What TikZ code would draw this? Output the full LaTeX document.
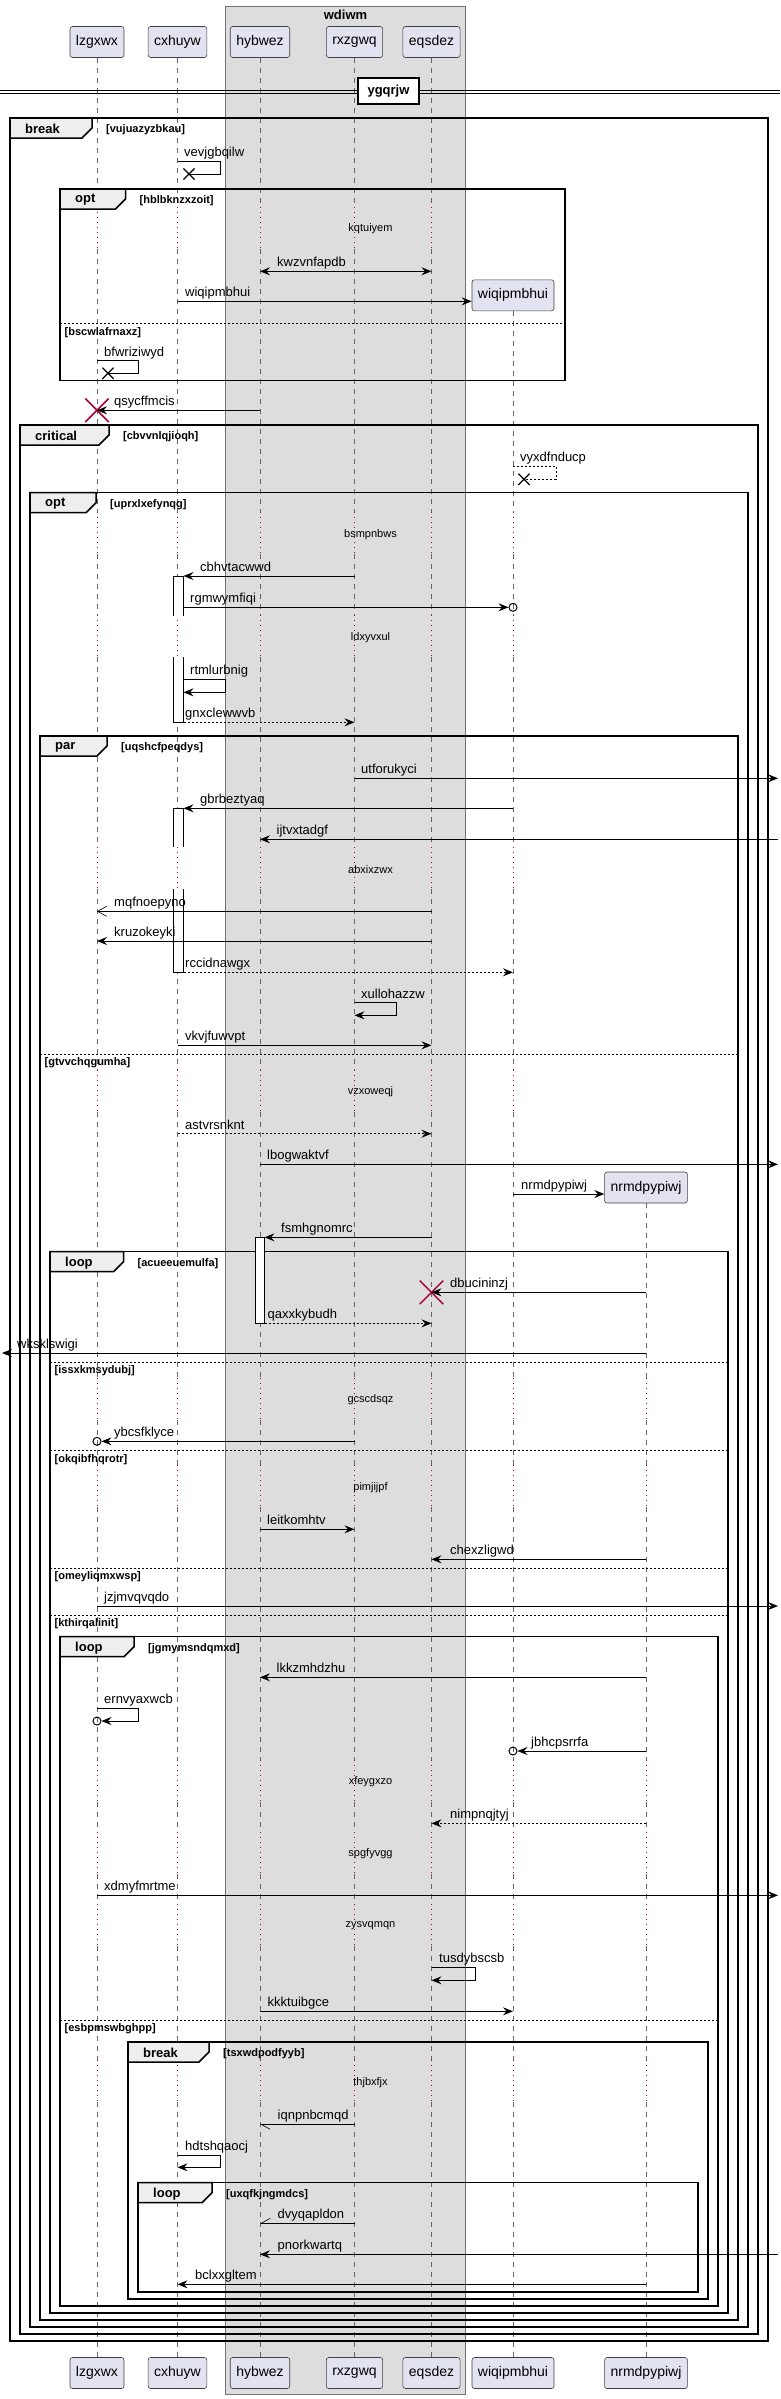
\documentclass[tikz,border=0pt]{standalone}
\usepackage{fontspec}
\setmainfont{Liberation Sans}
\usetikzlibrary{arrows.meta,shapes.misc}

\definecolor{partfill}{HTML}{E2E2F0}
\definecolor{boxfill}{HTML}{DDDDDD}
\definecolor{tabfill}{HTML}{EEEEEE}
\definecolor{delayred}{HTML}{A80036}

\tikzset{
  part/.style={draw=black!75, line width=0.6pt, fill=partfill, rounded corners=2.5pt, minimum height=31pt, inner xsep=6pt, inner ysep=0pt, font=\fontsize{14}{16}\selectfont},
  grpbox/.style={draw=black!55, line width=0.6pt, fill=boxfill},
  grptitle/.style={font=\bfseries\fontsize{13}{15}\selectfont, inner sep=0pt},
  sepline/.style={line width=1pt},
  sepbox/.style={draw, line width=1.5pt, fill=white, minimum width=61pt, minimum height=26pt, inner sep=0pt, font=\bfseries\fontsize{13}{15}\selectfont},
  life/.style={draw=black!60, line width=0.6pt, dash pattern=on 5pt off 5pt},
  delayline/.style={draw=delayred, line width=0.9pt, dash pattern=on 1pt off 4pt},
  delaytxt/.style={font=\fontsize{11}{13}\selectfont, inner sep=0pt},
  grpframe/.style={line width=1.5pt},
  grptab/.style={fill=tabfill, line width=1.5pt},
  tabtxt/.style={font=\bfseries\fontsize{13}{15}\selectfont, anchor=west, inner sep=0pt},
  condtxt/.style={font=\bfseries\fontsize{11}{13}\selectfont, anchor=west, inner sep=0pt},
  elseline/.style={line width=0.7pt, dash pattern=on 2pt off 2pt},
  act/.style={draw, fill=white, line width=0.7pt},
  msg/.style={line width=0.9pt, -{Stealth[length=10pt,width=8pt,inset=3.5pt]}},
  bimsg/.style={line width=0.9pt, {Stealth[length=10pt,width=8pt,inset=3.5pt]}-{Stealth[length=10pt,width=8pt,inset=3.5pt]}},
  openmsg/.style={line width=0.9pt, -{Straight Barb[length=9pt,width=10pt,line width=0.6pt]}},
  halflo/.style={line width=0.9pt, -{Straight Barb[left,length=9pt,width=10pt,line width=0.6pt]}},
  halfhi/.style={line width=0.9pt, -{Straight Barb[right,length=9pt,width=10pt,line width=0.6pt]}},
  selfline/.style={line width=0.9pt},
  retn/.style={dash pattern=on 2pt off 2pt},
  lbl/.style={font=\fontsize{13}{15}\selectfont, anchor=base west, inner sep=0pt},
  endo/.style={circle, draw, line width=1pt, minimum size=8pt, inner sep=0pt},
  destroy/.style={cross out, draw=delayred, line width=1.5pt, minimum size=22pt, inner sep=0pt},
  lx/.style={cross out, draw, line width=1.2pt, minimum size=10pt, inner sep=0pt}
}

\begin{document}
\begin{tikzpicture}[x=1pt,y=-1pt]
\useasboundingbox (0,0) rectangle (780,2399);

\draw[grpbox] (225.5,6) rectangle (465.5,2394);
\node[grptitle] (wdiwm) at (345.5,15) {wdiwm};

\foreach \n/\x in {lzgxwx/97, cxhuyw/177.5, hybwez/260, rxzgwq/354.5, eqsdez/431.5}
  \node[part] (\n) at (\x,42) {\n};
\node[part] (wiqipmbhui) at (513,295.3) {wiqipmbhui};
\node[part] (nrmdpypiwj) at (646,1187.5) {nrmdpypiwj};
\foreach \n/\x in {lzgxwx/97, cxhuyw/177.5, hybwez/260, rxzgwq/354.5, eqsdez/431.5, wiqipmbhui/513, nrmdpypiwj/646}
  \node[part] (\n-b) at (\x,2373) {\n};

\coordinate (cxR) at (183.5,0);
\coordinate (hyR) at (264.5,0);
\coordinate (lim) at (2,0);
\coordinate (rim) at (778,0);

\foreach \p/\s in {lzgxwx/57.5, cxhuyw/57.5, hybwez/57.5, rxzgwq/57.5, eqsdez/57.5, wiqipmbhui/311.3, nrmdpypiwj/1203}{
  \foreach \a/\b in {57.5/207, 249/512.3, 554.3/615.3, 657.3/847.3, 889.3/1069.7, 1111.7/1378, 1420/1465.3, 1507.3/1760, 1802/1832, 1874/1903.7, 1945.7/2060.3, 2102.3/2357.5}{
    \pgfmathsetmacro\lo{max(\a,\s)}
    \ifdim\b pt>\s pt \draw[life] (\p |- 0,\lo) -- (\p |- 0,\b); \fi
  }
  \foreach \c/\d in {207/249, 512.3/554.3, 615.3/657.3, 847.3/889.3, 1069.7/1111.7, 1378/1420, 1465.3/1507.3, 1760/1802, 1832/1874, 1903.7/1945.7, 2060.3/2102.3}{
    \ifdim\c pt>\s pt \draw[delayline] (\p |- 0,\c) -- (\p |- 0,\d); \fi
  }
}
\foreach \t/\txt in {229/kqtuiyem, 534.3/bsmpnbws, 637.3/ldxyvxul, 869.3/abxixzwx, 1091.7/vzxoweqj, 1400/gcscdsqz, 1487.3/pimjijpf, 1782/xfeygxzo, 1854/spgfyvgg, 1925.7/zysvqmqn, 2082.3/thjbxfjx}
  \node[delaytxt] (d-\txt) at (370.5,\t) {\txt};

\draw[sepline] (0,90) -- (780,90) (0,93) -- (780,93);
\node[sepbox] (ygqrjw) at (388.5,91) {ygqrjw};

\foreach \xa/\ya/\xb/\yb/\kind/\tr/\cnd [count=\i] in {10/118/768/2341/break/92/vujuazyzbkau, 60/189/565/380.7/opt/125.5/hblbknzxzoit, 20/425/758/2334/critical/109/cbvvnlqjioqh, 30/492.7/748/2327/opt/96/uprxlxefynqg, 40/736/738/2320/par/107/uqshcfpeqdys, 50/1251.7/728/2313/loop/123.5/acueeuemulfa, 60/1636.7/718/2306/loop/134/jgmymsndqmxd, 128/2042/708/2299/break/209/tsxwdpodfyyb, 138/2182.7/698/2292/loop/212/uxqfkjngmdcs}{
  \draw[grpframe] (\xa,\ya) rectangle (\xb,\yb);
  \draw[grptab] (\xa,\ya) -- (\tr,\ya) -- (\tr,\ya+10) -- (\tr-10,\ya+20) -- (\xa,\ya+20) -- cycle;
  \node[tabtxt] (tab\i) at (\xa+15,\ya+11) {\kind};
  \node[condtxt] (cond\i) at (\tr+14,\ya+11.5) {[\cnd]};
}
\foreach \xa/\y/\xb/\cnd [count=\i] in {60/323.3/565/bscwlafrnaxz, 40/1054/738/gtvvchqgumha, 50/1362/728/issxkmsydubj, 50/1450.3/728/okqibfhqrotr, 50/1568/728/omeyliqmxwsp, 50/1615/728/kthirqalinit, 60/2020/718/esbpmswbghpp}{
  \draw[elseline] (\xa,\y) -- (\xb,\y);
  \node[condtxt] (else\i) at (\xa+4.5,\y+9) {[\cnd]};
}

\fill[white] (173.5,576) rectangle (183.5,615.7);
\draw[act] (173.5,615.7) |- (183.5,576) -- (183.5,615.7);
\fill[white] (173.5,656.7) rectangle (183.5,722.3);
\draw[act] (173.5,656.7) |- (183.5,722.3) -- (183.5,656.7);
\fill[white] (173.5,808.3) rectangle (183.5,847.3);
\draw[act] (173.5,847.3) |- (183.5,808.3) -- (183.5,847.3);
\fill[white] (173.5,889.3) rectangle (183.5,972.3);
\draw[act] (173.5,889.3) |- (183.5,972.3) -- (183.5,889.3);
\draw[act] (255,1237.3) rectangle (264.5,1323.3);

\node[lx] (x-vevjgbqilw) at (189,174) {};
\draw[selfline] (cxhuyw |- 0,161.3) -| (220.5,174) -- (x-vevjgbqilw.center);
\node[lbl] (t-vevjgbqilw) at (184,156.8) {vevjgbqilw};

\draw[bimsg] (hybwez |- 0,271.3) -- (eqsdez |- 0,271.3);
\node[lbl] (t-kwzvnfapdb) at (277,266.8) {kwzvnfapdb};

\draw[msg] (cxhuyw |- 0,301.3) -- (wiqipmbhui.west |- 0,301.3);
\node[lbl] (t-wiqipmbhui) at (185,296.8) {wiqipmbhui};

\node[lx] (x-bfwriziwyd) at (108,373.3) {};
\draw[selfline] (lzgxwx |- 0,360.7) -| (138.5,373.3) -- (x-bfwriziwyd.center);
\node[lbl] (t-bfwriziwyd) at (104,356.2) {bfwriziwyd};

\node[destroy] (k-lzgxwx) at (lzgxwx |- 0,410.3) {};
\draw[msg] (hybwez |- 0,410.3) -- (k-lzgxwx.center);
\node[lbl] (t-qsycffmcis) at (114,405.8) {qsycffmcis};

\node[lx] (x-vyxdfnducp) at (524,479.3) {};
\draw[selfline,retn] (wiqipmbhui |- 0,466) -| (556,479.3) -- (x-vyxdfnducp.center);
\node[lbl] (t-vyxdfnducp) at (520,461.5) {vyxdfnducp};

\draw[msg] (rxzgwq |- 0,576) -- (cxR |- 0,576);
\node[lbl] (t-cbhvtacwwd) at (200,571.5) {cbhvtacwwd};

\node[endo] (o-rgmwymfiqi) at (wiqipmbhui |- 0,607.3) {};
\draw[msg] (cxR |- 0,607.3) -- (o-rgmwymfiqi);
\node[lbl] (t-rgmwymfiqi) at (190,602.8) {rgmwymfiqi};

\draw[msg] (cxR |- 0,679.3) -| (225.5,692.3) -- (cxR |- 0,692.3);
\node[lbl] (t-rtmlurbnig) at (190,674.8) {rtmlurbnig};

\draw[msg,retn] (cxR |- 0,722.3) -- (rxzgwq |- 0,722.3);
\node[lbl] (t-gnxclewwvb) at (185,717.8) {gnxclewwvb};

\draw[msg] (rxzgwq |- 0,778.3) -- (rim |- 0,778.3);
\node[lbl] (t-utforukyci) at (361,773.8) {utforukyci};

\draw[msg] (wiqipmbhui |- 0,808.3) -- (cxR |- 0,808.3);
\node[lbl] (t-gbrbeztyaq) at (200,803.8) {gbrbeztyaq};

\draw[msg] (rim |- 0,839.3) -- (hybwez |- 0,839.3);
\node[lbl] (t-ijtvxtadgf) at (276.5,834.8) {ijtvxtadgf};

\draw[openmsg] (eqsdez |- 0,911.3) -- (lzgxwx |- 0,911.3);
\node[lbl] (t-mqfnoepyno) at (114,906.8) {mqfnoepyno};

\draw[msg] (eqsdez |- 0,941) -- (lzgxwx |- 0,941);
\node[lbl] (t-kruzokeyki) at (114,936.5) {kruzokeyki};

\draw[msg,retn] (cxR |- 0,972.3) -- (wiqipmbhui |- 0,972.3);
\node[lbl] (t-rccidnawgx) at (185,967.8) {rccidnawgx};

\draw[msg] (rxzgwq |- 0,1002.7) -| (396.5,1015.3) -- (rxzgwq |- 0,1015.3);
\node[lbl] (t-xullohazzw) at (361,998.2) {xullohazzw};

\draw[msg] (cxhuyw |- 0,1045.3) -- (eqsdez |- 0,1045.3);
\node[lbl] (t-vkvjfuwvpt) at (185,1040.8) {vkvjfuwvpt};

\draw[msg,retn] (cxhuyw |- 0,1133.7) -- (eqsdez |- 0,1133.7);
\node[lbl] (t-astvrsnknt) at (185,1129.2) {astvrsnknt};

\draw[msg] (hybwez |- 0,1164.3) -- (rim |- 0,1164.3);
\node[lbl] (t-lbogwaktvf) at (267,1159.8) {lbogwaktvf};

\draw[msg] (wiqipmbhui |- 0,1194) -- (nrmdpypiwj.west |- 0,1194);
\node[lbl] (t-nrmdpypiwj) at (521,1189.5) {nrmdpypiwj};

\draw[msg] (eqsdez |- 0,1237.3) -- (hyR |- 0,1237.3);
\node[lbl] (t-fsmhgnomrc) at (281,1232.8) {fsmhgnomrc};

\node[destroy] (k-eqsdez) at (eqsdez |- 0,1292.3) {};
\draw[msg] (nrmdpypiwj |- 0,1292.3) -- (k-eqsdez.center);
\node[lbl] (t-dbucininzj) at (450,1287.8) {dbucininzj};

\draw[msg,retn] (hyR |- 0,1323.3) -- (eqsdez |- 0,1323.3);
\node[lbl] (t-qaxxkybudh) at (267.5,1318.8) {qaxxkybudh};

\draw[msg] (nrmdpypiwj |- 0,1353) -- (lim |- 0,1353);
\node[lbl] (t-wksklswigi) at (17,1348.5) {wksklswigi};

\node[endo] (o-ybcsfklyce) at (lzgxwx |- 0,1441.3) {};
\draw[msg] (rxzgwq |- 0,1441.3) -- (o-ybcsfklyce);
\node[lbl] (t-ybcsfklyce) at (114,1436.8) {ybcsfklyce};

\draw[msg] (hybwez |- 0,1529.3) -- (rxzgwq |- 0,1529.3);
\node[lbl] (t-leitkomhtv) at (267,1524.8) {leitkomhtv};

\draw[msg] (nrmdpypiwj |- 0,1559.3) -- (eqsdez |- 0,1559.3);
\node[lbl] (t-chexzligwd) at (450,1554.8) {chexzligwd};

\draw[msg] (lzgxwx |- 0,1606) -- (rim |- 0,1606);
\node[lbl] (t-jzjmvqvqdo) at (104,1601.5) {jzjmvqvqdo};

\draw[msg] (nrmdpypiwj |- 0,1677.3) -- (hybwez |- 0,1677.3);
\node[lbl] (t-lkkzmhdzhu) at (276.5,1672.8) {lkkzmhdzhu};

\node[endo] (o-ernvyaxwcb) at (lzgxwx |- 0,1721) {};
\draw[msg] (lzgxwx |- 0,1708.3) -| (138.5,1721) -- (o-ernvyaxwcb);
\node[lbl] (t-ernvyaxwcb) at (104,1703.8) {ernvyaxwcb};

\node[endo] (o-jbhcpsrrfa) at (wiqipmbhui |- 0,1751) {};
\draw[msg] (nrmdpypiwj |- 0,1751) -- (o-jbhcpsrrfa);
\node[lbl] (t-jbhcpsrrfa) at (531,1746.5) {jbhcpsrrfa};

\draw[msg,retn] (nrmdpypiwj |- 0,1823.3) -- (eqsdez |- 0,1823.3);
\node[lbl] (t-nimpnqjtyj) at (450,1818.8) {nimpnqjtyj};

\draw[msg] (lzgxwx |- 0,1895.3) -- (rim |- 0,1895.3);
\node[lbl] (t-xdmyfmrtme) at (104,1890.8) {xdmyfmrtme};

\draw[msg] (eqsdez |- 0,1967.3) -| (475,1980.3) -- (eqsdez |- 0,1980.3);
\node[lbl] (t-tusdybscsb) at (439,1962.8) {tusdybscsb};

\draw[msg] (hybwez |- 0,2011.3) -- (wiqipmbhui |- 0,2011.3);
\node[lbl] (t-kkktuibgce) at (267.5,2006.8) {kkktuibgce};

\draw[halflo] (rxzgwq |- 0,2124.3) -- (hybwez |- 0,2124.3);
\node[lbl] (t-iqnpnbcmqd) at (277.5,2119.8) {iqnpnbcmqd};

\draw[msg] (cxhuyw |- 0,2155.3) -| (220.5,2167.3) -- (cxhuyw |- 0,2167.3);
\node[lbl] (t-hdtshqaocj) at (185,2150.8) {hdtshqaocj};

\draw[halfhi] (rxzgwq |- 0,2223.3) -- (hybwez |- 0,2223.3);
\node[lbl] (t-dvyqapldon) at (277.5,2218.8) {dvyqapldon};

\draw[msg] (rim |- 0,2254.3) -- (hybwez |- 0,2254.3);
\node[lbl] (t-pnorkwartq) at (277.5,2249.8) {pnorkwartq};

\draw[msg] (nrmdpypiwj |- 0,2284.3) -- (cxhuyw |- 0,2284.3);
\node[lbl] (t-bclxxgltem) at (195,2279.8) {bclxxgltem};
\end{tikzpicture}
\end{document}
